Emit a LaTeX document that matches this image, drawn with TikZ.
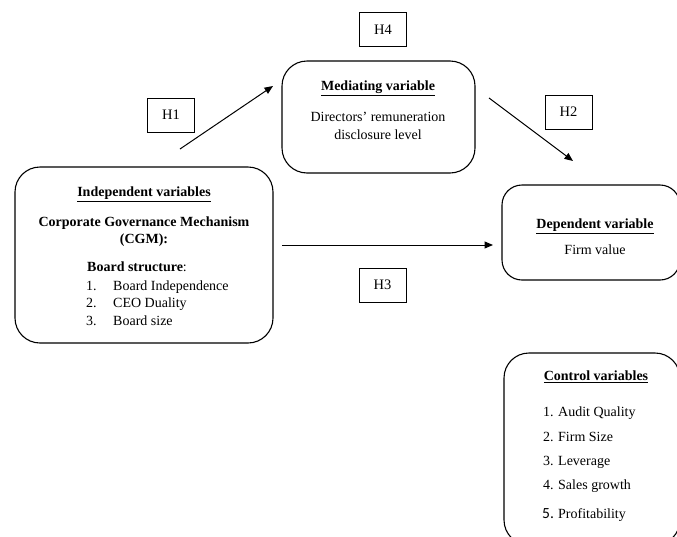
\documentclass[tikz,border=0pt]{standalone}
\usepackage{fontspec}
\setmainfont{Liberation Serif}
\newfontfamily\numfont{Carlito}
\usetikzlibrary{arrows.meta}
\begin{document}
\begin{tikzpicture}[x=1pt,y=-1pt,
  box/.style={draw, line width=1.1pt, inner sep=0pt},
  hbox/.style={draw, line width=0.9pt, minimum width=47pt, minimum height=34pt, inner sep=0pt, font=\fontsize{14.5}{16}\selectfont},
  txt/.style={inner sep=0pt, font=\fontsize{14}{17}\selectfont, text height=10pt, text depth=3pt},
  arr/.style={line width=1pt, -{Triangle[length=8.5pt,width=7pt]}}]
\useasboundingbox (0,0) rectangle (677,536);
\begin{scope}
\clip (0,0) rectangle (677,536);
% boxes
\node[box, rounded corners=25pt, minimum width=258pt, minimum height=176pt] (ind) at (144,255) {};
\node[box, rounded corners=25pt, minimum width=193pt, minimum height=112pt] (med) at (378.5,117) {};
\node[box, rounded corners=20pt, minimum width=178pt, minimum height=95pt] (dep) at (591,232.5) {};
\node[box, rounded corners=25pt, minimum width=176pt, minimum height=192pt] (ctl) at (592,449) {};
% hypothesis boxes
\node[hbox] (h4) at (383,29.5) {H4};
\node[hbox] (h1) at (171,115) {H1};
\node[hbox] (h2) at (568.5,112) {H2};
\node[hbox] (h3) at (382.5,285) {H3};
% arrows
\coordinate (a1s) at (180,149); \coordinate (a1e) at (273,86);
\coordinate (a2s) at (489,98);  \coordinate (a2e) at (573,161);
\coordinate (a3s) at (282,245); \coordinate (a3e) at (493,245);
\draw[arr] (a1s) -- (a1e);
\draw[arr] (a2s) -- (a2e);
\draw[arr] (a3s) -- (a3e);
% independent text
\node[txt] (i0) at (144,193) {\textbf{\underline{Independent variables}}};
\node[txt] (i1) at (144,223) {\textbf{Corporate Governance Mechanism}};
\node[txt] (i2) at (144,240) {\textbf{(CGM):}};
\node[txt, anchor=west] (i3) at (87,268) {\textbf{Board structure}:};
\node[txt, anchor=west] (in1) at (86,287) {1.};
\node[txt, anchor=west] (it1) at (113,287) {Board Independence};
\node[txt, anchor=west] (in2) at (86,304) {2.};
\node[txt, anchor=west] (it2) at (113,304) {CEO Duality};
\node[txt, anchor=west] (in3) at (86,322) {3.};
\node[txt, anchor=west] (it3) at (113,322) {Board size};
% mediating text
\node[txt] (m0) at (378,87) {\textbf{\underline{Mediating variable}}};
\node[txt] (m1) at (378,118) {Directors’ remuneration};
\node[txt] (m2) at (378,136) {disclosure level};
% dependent text
\node[txt] (d0) at (595,225) {\textbf{\underline{Dependent variable}}};
\node[txt] (d1) at (595,251) {Firm value};
% control text
\node[txt] (c0) at (596,377) {\textbf{\underline{Control variables}}};
\node[txt, anchor=west] (cn1) at (543,413) {1.};
\node[txt, anchor=west] (ct1) at (558,413) {Audit Quality};
\node[txt, anchor=west] (cn2) at (543,438) {2.};
\node[txt, anchor=west] (ct2) at (558,438) {Firm Size};
\node[txt, anchor=west] (cn3) at (543,462) {3.};
\node[txt, anchor=west] (ct3) at (558,462) {Leverage};
\node[txt, anchor=west] (cn4) at (543,486) {4.};
\node[txt, anchor=west] (ct4) at (558,486) {Sales growth};
\node[txt, anchor=west, font=\numfont\fontsize{15.5}{17}\selectfont] (cn5) at (542,515) {5.};
\node[txt, anchor=west] (ct5) at (558,515) {Profitability};
\end{scope}
\end{tikzpicture}
\end{document}
